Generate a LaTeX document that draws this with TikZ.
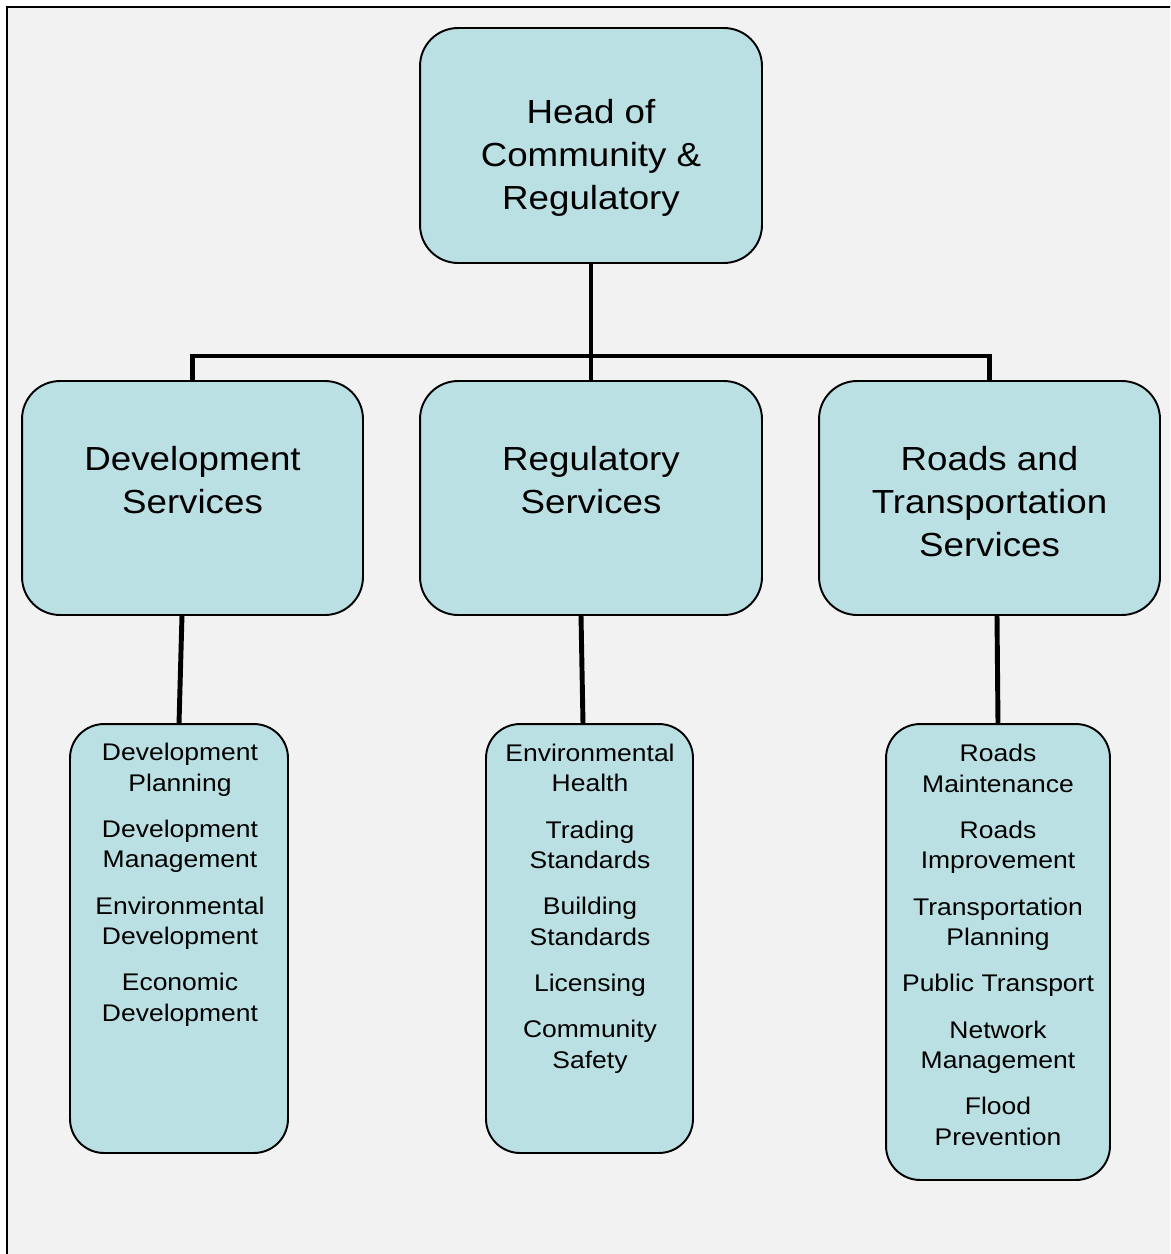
\documentclass[tikz,border=0pt]{standalone}
\usepackage{fontspec}
\setmainfont{Liberation Sans}[FakeStretch=1.1]
\usetikzlibrary{positioning}
\definecolor{boxfill}{RGB}{187,224,227}
\definecolor{pagegray}{RGB}{242,242,242}

\begin{document}
\begin{tikzpicture}[x=0.02cm,y=-0.02cm,
	unitbox/.style={draw=black, line width=1.1pt, fill=boxfill, rounded corners=0.76cm, inner sep=0pt, outer sep=0pt},
	subbox/.style={unitbox, rounded corners=0.68cm},
	bigtext/.style={align=center, anchor=base, inner sep=0pt, font=\fontsize{19}{24.4}\selectfont},
	smalltext/.style={align=center, anchor=base, inner sep=0pt, font=\fontsize{13.7}{17.3}\selectfont},
	link/.style={line width=2.8pt}]

		% Page
		\useasboundingbox (0,0) rectangle (1170,1254);
		\clip (0,0) rectangle (1170,1254);
		\fill[white] (0,0) rectangle (1170,1254);
		\fill[pagegray] (7,7) rectangle (1200,1300);
		\draw[line width=1.7pt] (7,1300) -- (7,7) -- (1200,7);

		% Head (text placed by its last baseline)
		\node[unitbox, minimum width=6.84cm, minimum height=4.7cm] (head) at (591,145.5) {};
		\node[bigtext] (headtxt) at (591,209) {Head of\\Community \&\\Regulatory};

		% Services
		\node[unitbox, minimum width=6.82cm, minimum height=4.68cm] (dev) at (192.5,498) {};
		\node[unitbox, minimum width=6.84cm, minimum height=4.68cm] (reg) at (591,498) {};
		\node[unitbox, minimum width=6.82cm, minimum height=4.68cm] (roads) at (989.5,498) {};
		\node[bigtext] (devtxt) at (192.5,513) {Development\\Services};
		\node[bigtext] (regtxt) at (591,513) {Regulatory\\Services};
		\node[bigtext] (roadstxt) at (989.5,556) {Roads and\\Transportation\\Services};

		% Sections
		\node[subbox, minimum width=4.36cm, minimum height=8.58cm] (devsub) at (179,938.5) {};
		\node[subbox, minimum width=4.14cm, minimum height=8.58cm] (regsub) at (589.5,938.5) {};
		\node[subbox, minimum width=4.48cm, minimum height=9.12cm] (roadssub) at (998,952) {};
		\node[smalltext] (devlist) at (180,1021) {Development\\Planning\\[9pt]Development\\Management\\[9pt]Environmental\\Development\\[9pt]Economic\\Development};
		\node[smalltext] (reglist) at (590,1068) {Environmental\\Health\\[9pt]Trading\\Standards\\[9pt]Building\\Standards\\[9pt]Licensing\\[9pt]Community\\Safety};
		\node[smalltext] (roadslist) at (998,1145) {Roads\\Maintenance\\[9pt]Roads\\Improvement\\[9pt]Transportation\\Planning\\[9pt]Public Transport\\[9pt]Network\\Management\\[9pt]Flood\\Prevention};

		% Links
		\coordinate (bar) at (591,356);
		\draw[link] (head.south) -- (bar);
		\draw[link] (dev.north) -- (dev.north |- bar) -- (roads.north |- bar) -- (roads.north);
		\draw[link] (bar) -- (reg.north);
		\draw[link] ([xshift=-0.21cm]dev.south) -- (devsub.north);
		\draw[link] ([xshift=-0.2cm]reg.south) -- ([xshift=-0.13cm]regsub.north);
		\draw[link] ([xshift=0.15cm]roads.south) -- (roadssub.north);

	\end{tikzpicture}
\end{document}
